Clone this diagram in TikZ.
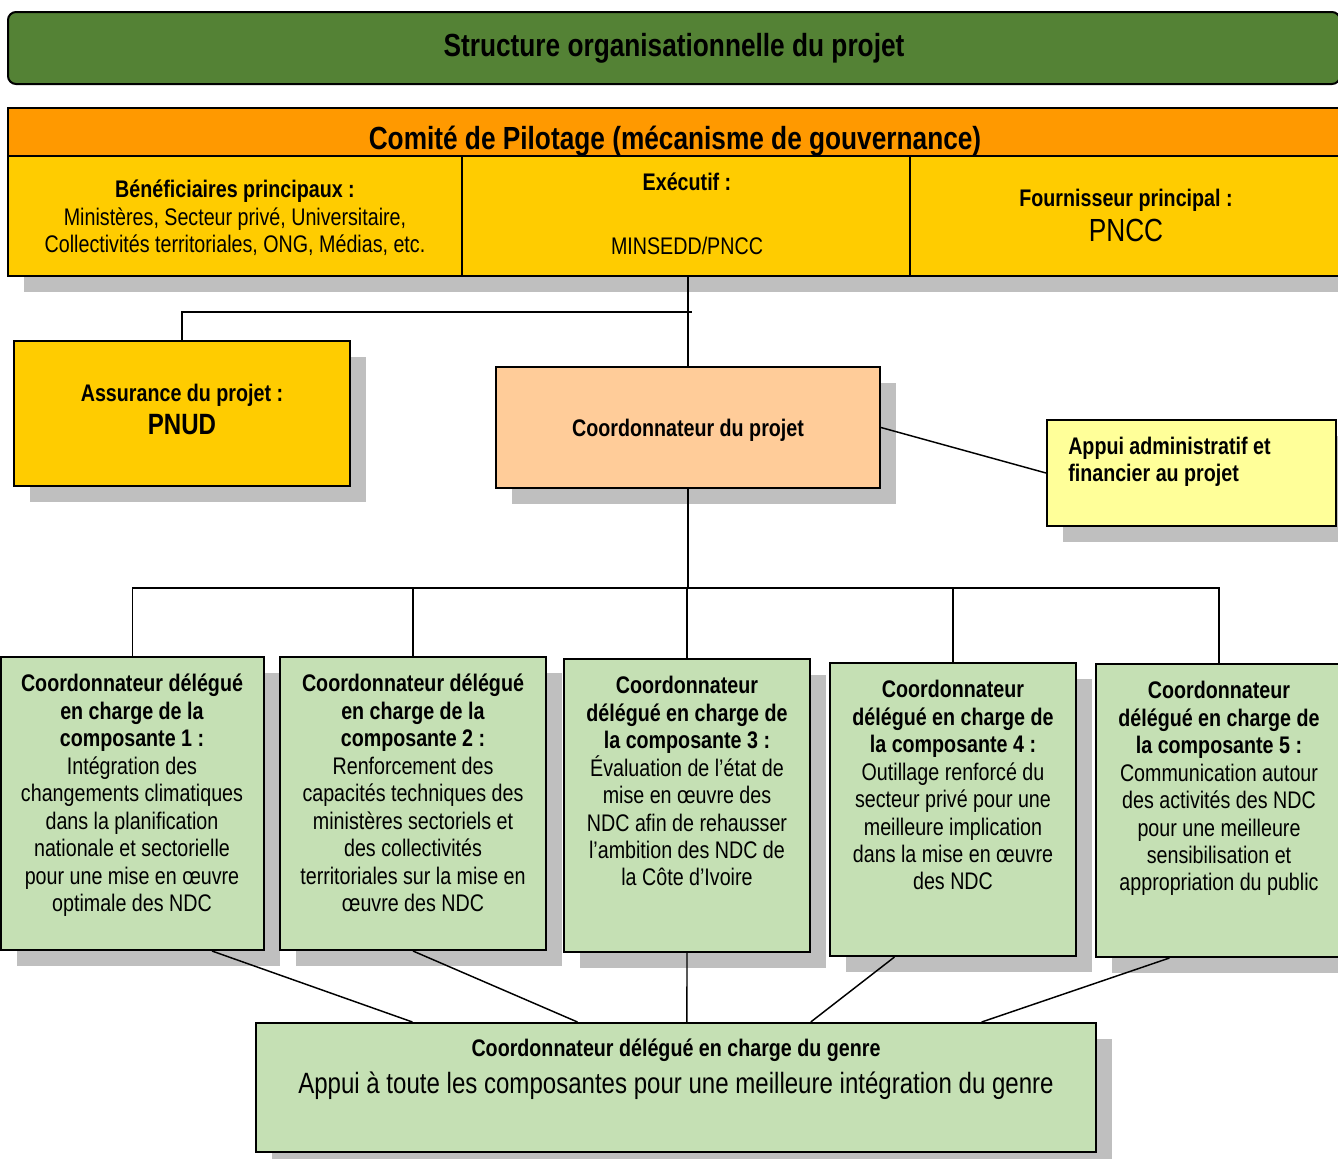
\documentclass[tikz,border=0pt]{standalone}
\usepackage{fontspec}
\setmainfont[FakeStretch=0.82]{Liberation Sans}
\usetikzlibrary{shadows,calc}
\definecolor{titlegreen}{HTML}{548235}
\definecolor{headorange}{HTML}{FF9900}
\definecolor{cellyellow}{HTML}{FFCC00}
\definecolor{coordpeach}{HTML}{FFCC99}
\definecolor{appuiyellow}{HTML}{FFFF99}
\definecolor{compgreen}{HTML}{C5E0B4}
\definecolor{shadowgray}{HTML}{BFBFBF}
\begin{document}
\begin{tikzpicture}[x=0.75pt,y=-0.75pt,
  box/.style={draw=black, line width=1.5pt, inner sep=0pt, anchor=center},
  shadowed/.style={drop shadow={shadow xshift=12pt, shadow yshift=-12pt, fill=shadowgray, opacity=1}},
  txt/.style={inner sep=0pt, font=\fontsize{18}{20.6}\selectfont},
  bigtxt/.style={inner sep=0pt, font=\fontsize{24}{28}\selectfont},
  comptxt/.style={txt, align=center, anchor=north},
  conn/.style={draw=black, line width=1.1pt}]
\useasboundingbox (0,0) rectangle (1338,1158);

% title
\node[box, fill=titlegreen, rounded corners=6pt, minimum width=999pt, minimum height=54pt] (title) at (674,48) {};
\node[bigtxt, font=\fontsize{24}{28}\selectfont\bfseries, anchor=base] (titletxt) at (674,56.5) {Structure organisationnelle du projet};

% comite
\node[box, fill=headorange, minimum width=1002.75pt, minimum height=36pt] (head) at (676.5,132) {};
\node[bigtxt, font=\fontsize{24}{28}\selectfont\bfseries, anchor=base] (headtxt) at (675,149.5) {Comité de Pilotage (mécanisme de gouvernance)};
\node[box, shadowed, fill=cellyellow, minimum width=340.5pt, minimum height=90pt] (benef) at (235,216) {};
\node[box, shadowed, fill=cellyellow, minimum width=336pt, minimum height=90pt] (exec) at (686,216) {};
\node[box, shadowed, fill=cellyellow, minimum width=326.25pt, minimum height=90pt] (fourn) at (1127.5,216) {};
\node[comptxt] (beneftxt) at (235,180) {\textbf{Bénéficiaires principaux :}\\Ministères, Secteur privé, Universitaire,\\Collectivités territoriales, ONG, Médias, etc.};
\node[txt, font=\fontsize{18}{20.6}\selectfont\bfseries, anchor=base] (exectxt) at (687,190) {Exécutif :};
\node[txt, anchor=base] (exectxtb) at (687,254.6) {MINSEDD/PNCC};
\node[txt, font=\fontsize{18}{20.6}\selectfont\bfseries, anchor=base] (fourntxt) at (1126,206.6) {Fournisseur principal :};
\node[bigtxt, anchor=base] (fourntxtb) at (1126,241.5) {PNCC};

% assurance
\node[box, shadowed, fill=cellyellow, minimum width=252pt, minimum height=108.75pt] (assur) at (182,413.5) {};
\node[txt, font=\fontsize{18}{20.6}\selectfont\bfseries, anchor=base] (assurtxt) at (182,401.6) {Assurance du projet :};
\node[txt, font=\fontsize{22}{26}\selectfont\bfseries, anchor=base] (assurtxtb) at (182,434.4) {PNUD};

% coordonnateur
\node[box, shadowed, fill=coordpeach, minimum width=288pt, minimum height=90.75pt] (coord) at (688,427.5) {};
\node[txt, font=\fontsize{18}{20.6}\selectfont\bfseries, anchor=base] (coordtxt) at (688,436.6) {Coordonnateur du projet};

% appui
\node[box, shadowed, fill=appuiyellow, minimum width=216.75pt, minimum height=79.5pt] (appui) at (1191.5,473) {};
\node[txt, font=\fontsize{18}{20.25}\selectfont\bfseries, align=left, anchor=north west] (appuitxt) at (1068,437) {Appui administratif et\\financier au projet};

% composantes
\node[box, shadowed, fill=compgreen, minimum width=197.25pt, minimum height=219.75pt] (c1) at (132.5,803.5) {};
\node[box, shadowed, fill=compgreen, minimum width=199.5pt, minimum height=219.75pt] (c2) at (413,803.5) {};
\node[box, shadowed, fill=compgreen, minimum width=184.5pt, minimum height=219.75pt] (c3) at (687,805.5) {};
\node[box, shadowed, fill=compgreen, minimum width=184.5pt, minimum height=219.75pt] (c4) at (953,809.5) {};
\node[box, shadowed, fill=compgreen, minimum width=184.5pt, minimum height=219.75pt] (c5) at (1219,810.5) {};

\node[comptxt] (c1txt) at (132,674) {\textbf{Coordonnateur délégué}\\\textbf{en charge de la}\\\textbf{composante 1 :}\\Intégration des\\changements climatiques\\dans la planification\\nationale et sectorielle\\pour une mise en œuvre\\optimale des NDC};
\node[comptxt] (c2txt) at (413,674) {\textbf{Coordonnateur délégué}\\\textbf{en charge de la}\\\textbf{composante 2 :}\\Renforcement des\\capacités techniques des\\ministères sectoriels et\\des collectivités\\territoriales sur la mise en\\œuvre des NDC};
\node[comptxt] (c3txt) at (687,676) {\textbf{Coordonnateur}\\\textbf{délégué en charge de}\\\textbf{la composante 3 :}\\Évaluation de l’état de\\mise en œuvre des\\NDC afin de rehausser\\l’ambition des NDC de\\la Côte d’Ivoire};
\node[comptxt] (c4txt) at (953,680) {\textbf{Coordonnateur}\\\textbf{délégué en charge de}\\\textbf{la composante 4 :}\\Outillage renforcé du\\secteur privé pour une\\meilleure implication\\dans la mise en œuvre\\des NDC};
\node[comptxt] (c5txt) at (1219,681) {\textbf{Coordonnateur}\\\textbf{délégué en charge de}\\\textbf{la composante 5 :}\\Communication autour\\des activités des NDC\\pour une meilleure\\sensibilisation et\\appropriation du public};

% genre
\node[box, shadowed, fill=compgreen, minimum width=630pt, minimum height=96.75pt] (gen) at (676,1087.5) {};
\node[txt, font=\fontsize{18}{20.6}\selectfont\bfseries, anchor=base] (gentxt) at (676,1056.6) {Coordonnateur délégué en charge du genre};
\node[txt, font=\fontsize{22}{26}\selectfont, anchor=base] (gentxtb) at (676,1093.4) {Appui à toute les composantes pour une meilleure intégration du genre};

% connectors
\coordinate (j1) at (692,312);
\coordinate (bus) at (688,588);
\draw[conn] (coord.north |- exec.south) -- (coord.north);
\draw[conn] (assur.north) |- (j1);
\draw[conn] (coord.east) -- (appui.west);
\draw[conn] (coord.south) -- (coord.south |- bus);
\draw[conn] (c1.north) -- (c1.north |- bus) -- (c5.north |- bus) -- (c5.north);
\draw[conn] (c2.north) -- (c2.north |- bus);
\draw[conn] (c3.north) -- (c3.north |- bus);
\draw[conn] (c4.north) -- (c4.north |- bus);
\draw[conn] ($(c1.south west)!0.8!(c1.south east)$) -- ($(gen.north west)!0.187!(gen.north east)$);
\draw[conn] (c2.south) -- ($(gen.north west)!0.383!(gen.north east)$);
\draw[conn] (c3.south) -- ($(gen.north west)!0.513!(gen.north east)$);
\draw[conn] ($(c4.south west)!0.264!(c4.south east)$) -- ($(gen.north west)!0.66!(gen.north east)$);
\draw[conn] ($(c5.south west)!0.3!(c5.south east)$) -- ($(gen.north west)!0.863!(gen.north east)$);
\end{tikzpicture}
\end{document}
